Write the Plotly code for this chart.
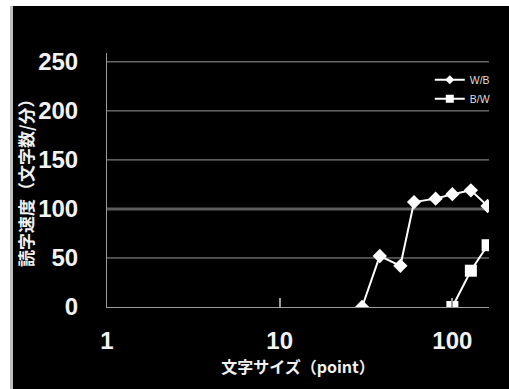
import plotly.graph_objects as go
import math

# Data
wb_size = [30, 38, 50, 60, 80, 100, 128, 160]
wb_speed = [0, 52, 42, 107, 110.5, 115, 119, 103]
bw_size = [100, 128, 160]
bw_speed = [0, 37, 63]

x_ticks = [1, 10, 100]
x_labels = ["1", "10", "100"]
y_ticks = [0, 50, 100, 150, 200, 250]
y_labels = ["0", "50", "100", "150", "200", "250"]

W, H = 509, 389
ML, MR, MT, MB = 107, 20, 53, 82
PW, PH = W - ML - MR, H - MT - MB

num_font = dict(family="Liberation Sans, Arial, sans-serif",
                size=24, color="#f2f2f2", weight="bold")
cjk_font = "Noto Sans CJK JP, sans-serif"

fig = go.Figure()
fig.add_trace(go.Scatter(
    x=wb_size, y=wb_speed, name="W/B", mode="lines+markers", showlegend=False,
    line=dict(color="white", width=2),
    marker=dict(symbol="diamond", size=11, color="white"),
))
fig.add_trace(go.Scatter(
    x=bw_size, y=bw_speed, name="B/W", mode="lines+markers", showlegend=False,
    line=dict(color="white", width=2),
    marker=dict(symbol="square", size=12, color="white"),
))
# legend entries with small symbols
fig.add_trace(go.Scatter(
    x=[None], y=[None], name="W/B", mode="lines+markers",
    line=dict(color="white", width=2),
    marker=dict(symbol="diamond", size=7, color="white"),
))
fig.add_trace(go.Scatter(
    x=[None], y=[None], name="B/W", mode="lines+markers",
    line=dict(color="white", width=2),
    marker=dict(symbol="square", size=8, color="white"),
))

def px_x(p):
    return (p - ML) / PW

def px_y(p):
    return (H - MB - p) / PH

shapes = [
    # black panel on a white page
    dict(type="rect", xref="paper", yref="paper", x0=px_x(13), x1=px_x(W + 2), y0=px_y(H + 2), y1=px_y(6),
         fillcolor="black", line=dict(width=0), layer="below"),
    dict(type="rect", xref="paper", yref="paper", x0=px_x(10), x1=px_x(13), y0=px_y(H + 2), y1=px_y(6),
         fillcolor="#bdbdbd", line=dict(width=0), layer="below"),
]
# horizontal gridlines (the 100 line is thicker and dimmer)
for v in y_ticks[1:]:
    if v == 100:
        ln = dict(color="#5c5c5c", width=3)
    else:
        ln = dict(color="#9a9a9a", width=1)
    shapes.append(dict(type="line", xref="paper", yref="y", x0=0, x1=1, y0=v, y1=v,
                       line=ln, layer="below"))

annotations = [
    dict(text="読字速度（文字数/分）", xref="paper", yref="paper",
         x=px_x(25), y=px_y(179), xanchor="center", yanchor="middle",
         textangle=-90, showarrow=False,
         font=dict(family=cjk_font, size=17, color="#f0f0f0", weight="bold")),
]

fig.update_layout(
    width=W, height=H,
    margin=dict(l=ML, r=MR, t=MT, b=MB),
    paper_bgcolor="white", plot_bgcolor="black",
    showlegend=True,
    legend=dict(x=0.845, y=0.952, xanchor="left", yanchor="top",
                bgcolor="rgba(0,0,0,0)", font=dict(family="Liberation Sans, Arial, sans-serif", size=10.5, color="#dddddd"),
                tracegroupgap=0),
    shapes=shapes,
    annotations=annotations,
    xaxis=dict(
        type="log", range=[0, math.log10(163)],
        tickvals=x_ticks, ticktext=x_labels,
        tickfont=num_font,
        ticks="inside", ticklen=9, tickcolor="#9a9a9a", tickwidth=2,
        ticklabelstandoff=12,
        showgrid=False, zeroline=False,
        showline=True, linecolor="#9a9a9a", linewidth=1,
        title=dict(text="文字サイズ（point）", font=dict(family=cjk_font, size=16, color="#f0f0f0", weight="bold"),
                   standoff=8),
    ),
    yaxis=dict(
        range=[0, 259],
        tickvals=y_ticks, ticktext=y_labels,
        tickfont=num_font,
        ticks="", ticklabelstandoff=23,
        showgrid=False,
        zeroline=False,
        showline=True, linecolor="#9a9a9a", linewidth=1,
    ),
)

fig.write_html("out.html", config={"displayModeBar": False},
               post_script="document.body.style.margin='0';document.body.style.overflow='hidden';")
